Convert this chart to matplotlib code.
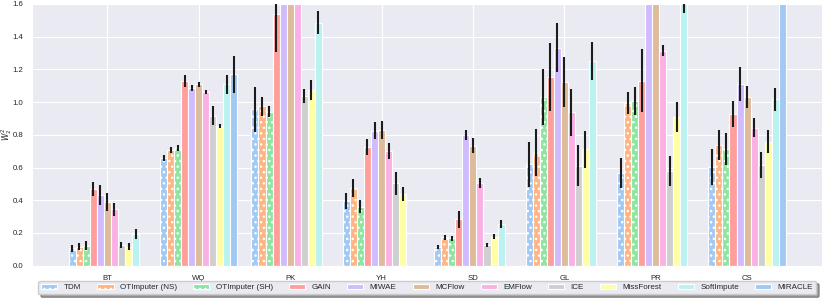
import numpy as np
import matplotlib
matplotlib.use("Agg")
import matplotlib.pyplot as plt
import seaborn as sns

sns.set_style("darkgrid")
plt.rcParams['font.family'] = ['Liberation Sans', 'DejaVu Sans']
plt.rcParams['hatch.color'] = 'white'
plt.rcParams['hatch.linewidth'] = 1.0

datasets = ['BT', 'WQ', 'PK', 'YH', 'SD', 'GL', 'PR', 'CS']
methods = ['TDM', 'OTImputer (NS)', 'OTImputer (SH)', 'GAIN', 'MIWAE', 'MCFlow',
           'EMFlow', 'ICE', 'MissForest', 'SoftImpute', 'MIRACLE']
hatched = ['TDM', 'OTImputer (NS)', 'OTImputer (SH)']

nan = np.nan
# mean W2^2 per dataset (values above 1.6 are clipped in the figure)
tdm = [0.106, 0.660, 0.956, 0.395, 0.116, 0.620, 0.567, 0.605]
tdm_err = [0.020, 0.017, 0.137, 0.050, 0.012, 0.137, 0.094, 0.111]
oti_ns = [0.116, 0.709, 0.976, 0.473, 0.173, 0.691, 0.993, 0.738]
oti_ns_err = [0.020, 0.018, 0.058, 0.055, 0.013, 0.145, 0.066, 0.092]
oti_sh = [0.122, 0.717, 0.942, 0.361, 0.167, 1.033, 1.009, 0.713]
oti_sh_err = [0.028, 0.018, 0.033, 0.040, 0.013, 0.170, 0.086, 0.100]
gain = [0.469, 1.129, 1.539, 0.724, 0.283, 1.152, 1.131, 0.927]
gain_err = [0.040, 0.036, 0.230, 0.048, 0.054, 0.207, 0.194, 0.078]
miwae = [0.432, 1.088, 2.10, 0.826, 0.799, 1.333, 1.90, 1.111]
miwae_err = [0.060, 0.018, 0.15, 0.053, 0.030, 0.150, 0.15, 0.103]
mcflow = [0.391, 1.109, 1.95, 0.830, 0.734, 1.123, 2.00, 1.033]
mcflow_err = [0.055, 0.017, 0.15, 0.053, 0.044, 0.153, 0.15, 0.068]
emflow = [0.344, 1.060, 2.30, 0.703, 0.508, 0.938, 1.315, 0.844]
emflow_err = [0.040, 0.013, 0.15, 0.050, 0.030, 0.143, 0.036, 0.060]
ice = [0.126, 0.917, 1.037, 0.503, 0.126, 0.611, 0.579, 0.616]
ice_err = [0.020, 0.058, 0.045, 0.070, 0.012, 0.124, 0.092, 0.077]
missforest = [0.116, 0.856, 1.074, 0.438, 0.177, 0.713, 0.907, 0.758]
missforest_err = [0.020, 0.013, 0.060, 0.042, 0.015, 0.113, 0.092, 0.069]
softimpute = [0.192, 1.109, 1.486, nan, 0.253, 1.252, 1.630, 1.017]
softimpute_err = [0.030, 0.058, 0.070, nan, 0.024, 0.117, 0.085, 0.071]
miracle = [nan, 1.170, nan, nan, nan, nan, nan, 3.20]
miracle_err = [nan, 0.115, nan, nan, nan, nan, nan, 0.30]

means = [tdm, oti_ns, oti_sh, gain, miwae, mcflow, emflow, ice, missforest, softimpute, miracle]
errs = [tdm_err, oti_ns_err, oti_sh_err, gain_err, miwae_err, mcflow_err, emflow_err,
        ice_err, missforest_err, softimpute_err, miracle_err]

palette = sns.color_palette('pastel')
colors = [palette[i % 10] for i in range(len(methods))]

fig = plt.figure(figsize=(8.22, 3.0), dpi=100)
ax = fig.add_axes([0.0395, 0.1143, 0.9605, 0.8724])

x = np.arange(len(datasets))
w = 0.077
n = len(methods)
for j, (name, m, e) in enumerate(zip(methods, means, errs)):
    pos = x + (j - (n - 1) / 2) * w
    ax.bar(pos, m, width=w, color=colors[j], edgecolor='white', linewidth=0.8,
           hatch='...' if name in hatched else None, label=name, zorder=2)
    ax.errorbar(pos, m, yerr=e, fmt='none', ecolor='#1c1c1c', elinewidth=1.5,
                capsize=0, zorder=3)

ax.set_xlim(-0.82, 7.82)
ax.set_ylim(0, 1.6)
yt = np.arange(0, 1.61, 0.2)
ax.set_yticks(yt)
ax.set_yticklabels([f'{v:.1f}' for v in yt])
ax.set_xticks(x)
ax.set_xticklabels(datasets)
ax.tick_params(axis='x', labelsize=5.6, pad=3, colors='#262626')
ax.tick_params(axis='y', labelsize=5.6, pad=3.0, colors='#262626')
ax.set_ylabel('$W_2^2$', fontsize=5.5)
ax.yaxis.set_label_coords(-0.0238, 0.5)

ax.legend(loc='upper center', bbox_to_anchor=(0.5, -0.058), ncol=n, fontsize=5.8,
          frameon=True, shadow=True, handlelength=2.0, handleheight=0.5,
          columnspacing=2.0, handletextpad=0.8, borderpad=0.4, borderaxespad=0)

fig.savefig('out.png', dpi=100)
